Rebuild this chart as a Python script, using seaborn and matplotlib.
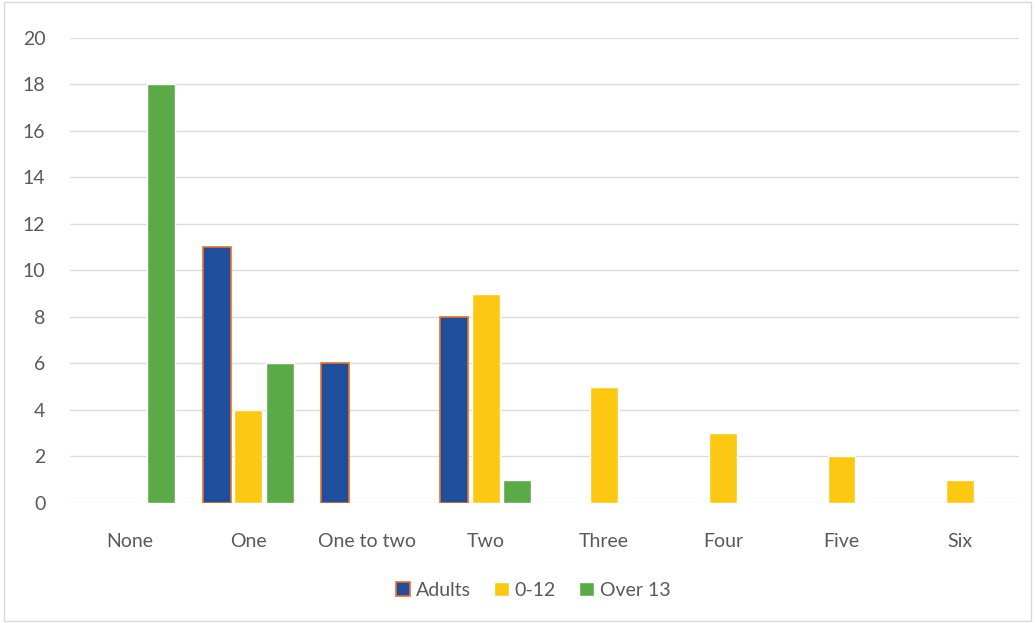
import numpy as np
import pandas as pd
import matplotlib
matplotlib.use("Agg")
import matplotlib.pyplot as plt
import seaborn as sns

categories = ["None", "One", "One to two", "Two", "Three", "Four", "Five", "Six"]
series = ["Adults", "0-12", "Over 13"]
adults = [np.nan, 11, 6, 8, np.nan, np.nan, np.nan, np.nan]
kids = [np.nan, 4, np.nan, 9, 5, 3, 2, 1]
over13 = [18, 6, np.nan, 1, np.nan, np.nan, np.nan, np.nan]

colors = {"Adults": "#1f4e9c", "0-12": "#fcc812", "Over 13": "#5aab47"}

df = pd.DataFrame({
    "cat": categories * 3,
    "series": ["Adults"] * 8 + ["0-12"] * 8 + ["Over 13"] * 8,
    "value": adults + kids + over13,
})

sns.set_style("white")
plt.rcParams["font.family"] = ["Lato", "DejaVu Sans"]

fig = plt.figure(figsize=(10.35, 6.23), dpi=100)
ax = fig.add_axes([0.068, 0.193, 0.917, 0.746])

sns.barplot(data=df, x="cat", y="value", hue="series", order=categories,
            hue_order=series, palette=colors, width=0.8, gap=0.12,
            saturation=1, ax=ax, legend=False)

# orange outline on the adult bars
for bar in ax.containers[0]:
    bar.set_edgecolor("#e8702a")
    bar.set_linewidth(1.2)

ax.set_ylim(0, 20)
ax.set_yticks(range(0, 21, 2))
ax.set_xlim(-0.5, len(categories) - 0.5)
ax.yaxis.grid(True, color="#dcdcdc", linewidth=1)
ax.set_axisbelow(True)
for s in ax.spines.values():
    s.set_visible(False)
ax.tick_params(axis="both", length=0, labelsize=14, labelcolor="#595959")
ax.tick_params(axis="x", pad=22)
ax.tick_params(axis="y", pad=18)
ax.set_xlabel("")
ax.set_ylabel("")

handles = [plt.Rectangle((0, 0), 1, 1, facecolor=colors["Adults"], edgecolor="#e8702a", linewidth=1.2),
           plt.Rectangle((0, 0), 1, 1, facecolor=colors["0-12"]),
           plt.Rectangle((0, 0), 1, 1, facecolor=colors["Over 13"])]
leg = fig.legend(handles, series, loc="center", bbox_to_anchor=(0.515, 0.052), ncol=3,
                 frameon=False, fontsize=14, handlelength=0.75, handleheight=0.75,
                 handletextpad=0.3, columnspacing=1.2)
for t in leg.get_texts():
    t.set_color("#595959")

fig.patches.append(plt.Rectangle((0.004, 0.004), 0.992, 0.992, transform=fig.transFigure,
                                 fill=False, edgecolor="#d9d9d9", linewidth=1))

fig.savefig("out.png", dpi=100)
